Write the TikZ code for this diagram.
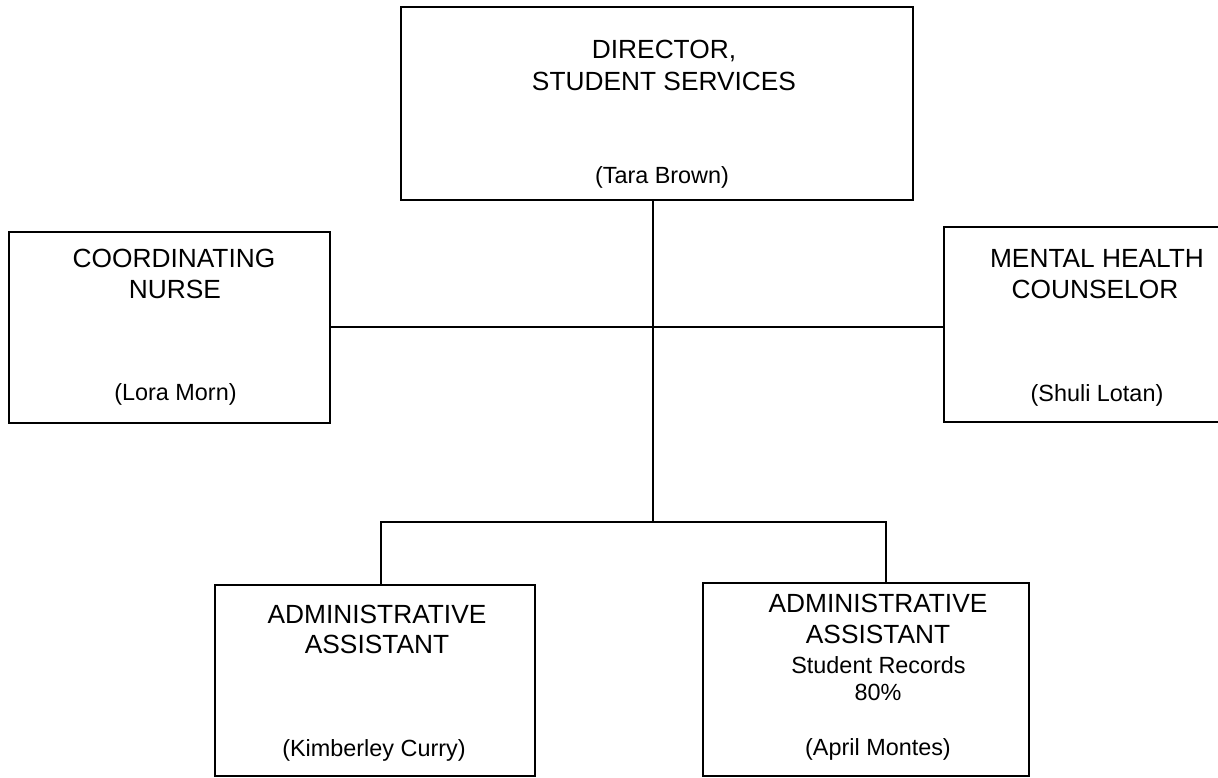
\documentclass[tikz,border=0pt]{standalone}
\usepackage{fontspec}
\setmainfont{Liberation Sans}
\begin{document}
\begin{tikzpicture}[x=1pt,y=-1pt,
  box/.style={draw=black, line width=2pt, rectangle, outer sep=0pt, inner sep=0pt},
  conn/.style={draw=black, line width=2pt},
  ttl/.style={anchor=base, inner sep=0pt, font=\fontsize{26.3}{30}\selectfont},
  nm/.style={anchor=base, inner sep=0pt, font=\fontsize{23.4}{28}\selectfont}]
\useasboundingbox (0,0) rectangle (1218,777);
\clip (0,0) rectangle (1218,777);
\fill[white] (0,0) rectangle (1218,777);
% boxes
\node[box, minimum width=512pt, minimum height=193pt] (dir) at (657,103.5) {};
\node[box, minimum width=321pt, minimum height=191pt] (nurse) at (169.5,327.5) {};
\node[box, minimum width=306pt, minimum height=195pt] (mhc) at (1097,324.5) {};
\node[box, minimum width=320pt, minimum height=191pt] (aa1) at (375,680.5) {};
\node[box, minimum width=326pt, minimum height=193pt] (aa2) at (866,679.5) {};
% texts
\node[ttl] (dir1) at (664,58) {DIRECTOR,};
\node[ttl] (dir2) at (664,90) {STUDENT SERVICES};
\node[nm]  (dir3) at (662,183) {(Tara Brown)};
\node[ttl] (nur1) at (174,267) {COORDINATING};
\node[ttl] (nur2) at (175,298) {NURSE};
\node[nm]  (nur3) at (175.5,400) {(Lora Morn)};
\node[ttl] (mhc1) at (1097,267) {MENTAL HEALTH};
\node[ttl] (mhc2) at (1095,298) {COUNSELOR};
\node[nm]  (mhc3) at (1097,401.5) {(Shuli Lotan)};
\node[ttl] (aa11) at (377,623) {ADMINISTRATIVE};
\node[ttl] (aa12) at (377,653) {ASSISTANT};
\node[nm]  (aa13) at (374,756.5) {(Kimberley Curry)};
\node[ttl] (aa21) at (878,612.5) {ADMINISTRATIVE};
\node[ttl] (aa22) at (878,643) {ASSISTANT};
\node[nm]  (aa23) at (878.5,673) {Student Records};
\node[nm]  (aa24) at (878,700) {80\%};
\node[nm]  (aa25) at (878,755) {(April Montes)};
% connectors
\coordinate (j) at (653,327);
\coordinate (bl) at (381,521.5);
\coordinate (br) at (886,521.5);
\draw[conn] (dir.south -| j) -- (j |- bl);
\draw[conn] (nurse.east |- j) -- (mhc.west |- j);
\draw[conn] (aa1.north -| bl) -- (bl) -- (br) -- (aa2.north -| br);
\end{tikzpicture}
\end{document}
